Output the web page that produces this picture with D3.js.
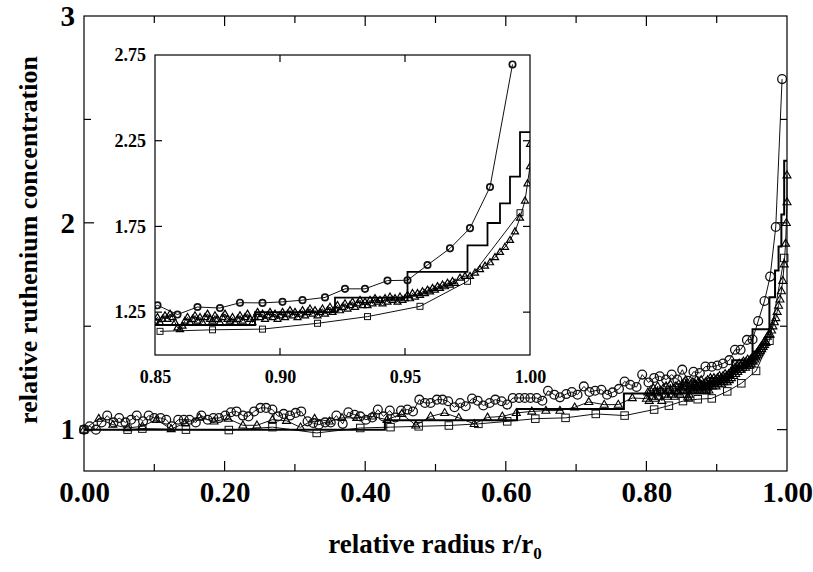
<!DOCTYPE html>
<html><head><meta charset="utf-8">
<script src="https://cdn.jsdelivr.net/npm/d3@7"></script>
<style>body{margin:0;background:#fff}svg{display:block}
svg text{font-family:"Liberation Serif","Times New Roman",serif !important;font-weight:bold;}</style>
</head><body><svg id="c" width="813" height="572"></svg>
<script>
// ---------- data ----------
const circleX = [0.000,0.008,0.017,0.025,0.033,0.042,0.050,0.059,0.067,0.075,0.084,0.092,0.100,0.109,0.117,0.125,0.134,0.142,0.150,0.159,
0.167,0.176,0.184,0.192,0.201,0.209,0.217,0.226,0.234,0.242,0.251,0.259,0.268,0.276,0.284,0.293,0.301,0.309,0.318,0.326,
0.334,0.343,0.351,0.359,0.368,0.376,0.385,0.393,0.401,0.410,0.418,0.426,0.435,0.443,0.451,0.460,0.468,0.477,0.485,0.493,
0.502,0.510,0.518,0.527,0.535,0.543,0.552,0.560,0.568,0.577,0.585,0.594,0.602,0.610,0.619,0.627,0.635,0.644,0.652,0.660,
0.669,0.677,0.686,0.694,0.702,0.711,0.719,0.727,0.736,0.744,0.752,0.761,0.769,0.777,0.786,0.794,0.803,0.811,0.819,0.828,
0.836,0.844,0.851,0.859,0.867,0.876,0.884,0.893,0.901,0.909,0.918,0.926,0.934,0.943,0.951,0.959,0.968,0.976,0.984,0.993];
const circleY = [1.000,1.016,1.000,1.035,1.068,1.035,1.056,1.035,1.048,1.068,1.040,1.068,1.056,1.056,1.048,1.016,1.048,1.048,1.048,1.035,
1.068,1.048,1.056,1.056,1.068,1.084,1.088,1.068,1.064,1.088,1.105,1.105,1.097,1.064,1.076,1.068,1.081,1.088,1.040,1.032,
1.024,1.035,1.035,1.068,1.028,1.084,1.072,1.064,1.048,1.059,1.097,1.064,1.092,1.059,1.092,1.097,1.088,1.145,1.129,1.129,
1.145,1.145,1.137,1.108,1.129,1.113,1.150,1.140,1.117,1.129,1.145,1.137,1.121,1.153,1.153,1.153,1.153,1.153,1.140,1.188,
1.169,1.156,1.172,1.182,1.169,1.209,1.182,1.188,1.193,1.169,1.180,1.197,1.233,1.217,1.206,1.266,1.228,1.250,1.258,1.242,
1.266,1.242,1.290,1.236,1.280,1.274,1.305,1.304,1.310,1.320,1.336,1.386,1.386,1.434,1.436,1.525,1.622,1.740,1.980,2.695];

const squareX = [0.000,0.062,0.083,0.145,0.206,0.268,0.331,0.393,0.436,0.476,0.519,0.561,0.602,0.642,0.685,0.728,0.769,0.811,0.832,0.852,0.873,0.893,0.915,0.935,0.956,0.975,0.996];
const squareY = [1.000,1.000,1.005,1.000,0.998,1.012,0.984,1.008,1.012,1.016,1.020,1.028,1.040,1.053,1.057,1.076,1.068,1.097,1.116,1.138,1.147,1.151,1.185,1.224,1.284,1.430,1.830];

const triangleX = [0.000,0.021,0.041,0.062,0.083,0.103,0.124,0.144,0.164,0.185,0.205,0.226,0.246,0.268,0.288,0.308,0.328,0.349,0.367,0.388,
0.410,0.431,0.452,0.472,0.493,0.513,0.533,0.555,0.574,0.595,0.615,0.637,0.657,0.677,0.698,0.718,0.740,0.760,0.780,
0.800,0.802,0.804,0.806,0.808,0.810,0.812,0.814,0.816,0.818,0.820,0.822,0.824,0.826,0.828,0.830,0.832,0.834,0.836,0.838,
0.840,0.842,0.844,0.846,0.848,
0.850,0.851,0.852,0.853,0.854,0.855,0.856,0.857,0.858,0.859,0.860,0.861,0.862,0.863,0.864,0.865,0.866,0.867,0.868,0.869,
0.870,0.871,0.872,0.873,0.874,0.875,0.876,0.877,0.878,0.879,0.880,0.881,0.882,0.883,0.884,0.885,0.886,0.887,0.888,0.889,
0.890,0.891,0.892,0.893,0.894,0.895,0.896,0.897,0.898,0.899,0.900,0.901,0.902,0.903,0.904,0.905,0.906,0.907,0.908,0.909,
0.910,0.911,0.912,0.913,0.914,0.915,0.916,0.917,0.918,0.919,0.920,0.921,0.922,0.923,0.924,0.925,0.926,0.927,0.928,0.929,
0.930,0.931,0.932,0.933,0.934,0.935,0.936,0.937,0.938,0.939,0.940,0.941,0.942,0.943,0.944,0.945,0.946,0.947,0.948,0.949,
0.950,0.951,0.952,0.953,0.954,0.955,0.956,0.957,0.958,0.959,0.960,0.961,0.962,0.963,0.964,0.965,0.966,0.967,0.968,0.969,
0.970,0.972,0.974,0.976,0.978,0.980,0.982,0.984,0.986,0.988,0.990,0.992,0.994,0.996,0.998,0.999,1.000,1.000];
const triangleY = [1.000,1.053,1.024,1.008,1.016,1.048,1.003,1.032,1.059,1.040,1.053,1.021,1.021,1.048,1.043,1.011,1.053,1.040,1.057,1.057,
1.064,1.048,1.076,1.021,1.064,1.081,1.057,1.028,1.059,1.064,1.081,1.088,1.092,1.092,1.108,1.134,1.121,1.121,1.153,
1.15,1.18,1.14,1.19,1.16,1.20,1.15,1.18,1.21,1.16,1.19,1.14,1.20,1.17,1.21,1.16,1.19,1.22,1.17,1.20,
1.16,1.21,1.18,1.22,1.17,
1.20,1.22,1.19,1.21,1.23,1.21,1.24,1.22,1.19,1.16,1.15,1.17,1.20,1.22,1.19,1.21,1.23,1.20,1.22,1.19,
1.22,1.24,1.21,1.20,1.23,1.21,1.19,1.22,1.24,1.21,1.20,1.22,1.19,1.21,1.23,1.20,1.22,1.24,1.21,1.19,
1.22,1.25,1.22,1.24,1.21,1.23,1.25,1.22,1.24,1.21,1.23,1.25,1.22,1.24,1.26,1.23,1.25,1.22,1.24,1.26,
1.23,1.25,1.27,1.24,1.26,1.23,1.25,1.27,1.24,1.26,1.28,1.25,1.27,1.29,1.26,1.28,1.30,1.27,1.29,1.31,
1.28,1.30,1.32,1.29,1.31,1.29,1.32,1.30,1.33,1.31,1.32,1.30,1.33,1.31,1.34,1.32,1.33,1.31,1.34,1.32,
1.33,1.35,1.33,1.36,1.34,1.36,1.35,1.37,1.36,1.38,1.37,1.39,1.38,1.40,1.39,1.41,1.40,1.42,1.41,1.43,
1.42,1.45,1.46,1.46,1.48,1.50,1.52,1.54,1.57,1.60,1.63,1.67,1.72,1.80,1.90,2.00,2.10,2.23];

const stepX = [0.000,0.428,0.616,0.768,0.890,0.922,0.951,0.975,0.983,0.988,0.992,0.996,1.000];
const stepY = [1.000,1.045,1.100,1.175,1.250,1.335,1.485,1.640,1.770,1.885,2.040,2.300,2.300];

const mainXLabels = [0,0.2,0.4,0.6,0.8,1.0];
const mainXMinor = [0.1,0.3,0.5,0.7,0.9];
const mainYLabels = [1,2,3];
const mainYMinor = [1.5,2.5];
const insetXLabels = [0.85,0.90,0.95,1.00];
const insetYLabels = [1.25,1.75,2.25,2.75];

// ---------- drawing ----------
const svg = d3.select("#c");
const FONT = '"Liberation Serif","Times New Roman",serif';
svg.append("rect").attr("width",813).attr("height",572).attr("fill","#fff");

const zip = (xs,ys)=>xs.map((x,i)=>[x,ys[i]]);
const circles = zip(circleX,circleY), squares = zip(squareX,squareY), tris = zip(triangleX,triangleY), steps = zip(stepX,stepY);

function panel(g, x, y, opt){
  const [x0,x1] = x.range(), [y1,y0] = y.range();
  const clipId = opt.id + "clip";
  const pad = opt.inset ? 0 : 6;
  g.append("clipPath").attr("id",clipId).append("rect")
    .attr("x",x0-pad).attr("y",y0-pad).attr("width",x1-x0+2*pad).attr("height",y1-y0+2*pad);
  const data = g.append("g").attr("clip-path",`url(#${clipId})`);
  const line = d3.line().x(d=>x(d[0])).y(d=>y(d[1]));
  const filt = a => a.filter(d=>d[0] >= x.domain()[0]-0.006);

  [circles, squares, tris].forEach(s=>{
    data.append("path").attr("d", line(filt(s))).attr("fill","none").attr("stroke","#111").attr("stroke-width",1);
  });
  data.append("path").attr("d", d3.line().curve(d3.curveStepAfter).x(d=>x(d[0])).y(d=>y(d[1]))(steps))
    .attr("fill","none").attr("stroke","#000").attr("stroke-width",opt.stepW);

  const r = opt.r, s = opt.sq, t = opt.tri;
  data.selectAll(".sq").data(filt(squares)).join("rect")
    .attr("x",d=>x(d[0])-s/2).attr("y",d=>y(d[1])-s/2).attr("width",s).attr("height",s)
    .attr("fill","none").attr("stroke","#111").attr("stroke-width",1);
  const triPath = d => { const cx=x(d[0]), cy=y(d[1]), h=t*0.87;
    return `M${cx},${cy-h*0.62}L${cx+t/2},${cy+h*0.38}L${cx-t/2},${cy+h*0.38}Z`; };
  data.selectAll(".tr").data(filt(tris)).join("path").attr("d",triPath)
    .attr("fill","none").attr("stroke","#000").attr("stroke-width",opt.tw);
  data.selectAll(".ci").data(filt(circles)).join("circle")
    .attr("cx",d=>x(d[0])).attr("cy",d=>y(d[1])).attr("r",r)
    .attr("fill","none").attr("stroke","#111").attr("stroke-width",opt.cw);

  g.append("rect").attr("x",x0).attr("y",y0).attr("width",x1-x0).attr("height",y1-y0)
    .attr("fill","none").attr("stroke","#000").attr("stroke-width",1.2);

  const tickG = g.append("g").attr("stroke","#000").attr("stroke-width",1.2);
  const addX = (vals,len)=>vals.forEach(v=>{
    tickG.append("line").attr("x1",x(v)).attr("x2",x(v)).attr("y1",y1).attr("y2",y1-len);
    tickG.append("line").attr("x1",x(v)).attr("x2",x(v)).attr("y1",y0).attr("y2",y0+len);
  });
  const addY = (vals,len)=>vals.forEach(v=>{
    tickG.append("line").attr("y1",y(v)).attr("y2",y(v)).attr("x1",x0).attr("x2",x0+len);
    tickG.append("line").attr("y1",y(v)).attr("y2",y(v)).attr("x1",x1).attr("x2",x1-len);
  });
  addX(opt.xMajor, opt.majLen); addX(opt.xMinor, opt.minLen);
  addY(opt.yMajor, opt.majLen); addY(opt.yMinor, opt.minLen);

  const ax = g.append("g").attr("transform",`translate(0,${y1})`)
    .call(d3.axisBottom(x).tickValues(opt.xLabels).tickSize(0).tickPadding(opt.xPad).tickFormat(d3.format(".2f")));
  const ay = g.append("g").attr("transform",`translate(${x0},0)`)
    .call(d3.axisLeft(y).tickValues(opt.yLabels).tickSize(0).tickPadding(opt.yPad).tickFormat(opt.yFmt));
  [ax,ay].forEach(a=>{
    a.attr("font-family",FONT);
    a.select(".domain").remove();
    a.selectAll("text").attr("font-family",FONT).attr("font-weight","bold").attr("font-size",opt.fs).attr("fill","#000");
  });
}

// main
const xMain = d3.scaleLinear().domain([0,1]).range([84,787]);
const yMain = d3.scaleLinear().domain([0.8,3]).range([471,16]);
panel(svg.append("g"), xMain, yMain, {id:"m", r:4.4, cw:1.3, sq:7.5, tri:8, tw:1.1, stepW:2,
  xMajor:[0.2,0.4,0.6,0.8], xMinor:mainXMinor, yMajor:[1,2], yMinor:mainYMinor, majLen:10, minLen:7,
  xLabels:mainXLabels, yLabels:mainYLabels, xPad:10, yPad:9, fs:29, yFmt:d3.format("d")});

// inset
const xIn = d3.scaleLinear().domain([0.85,1.0]).range([155,530]);
const yIn = d3.scaleLinear().domain([1.0,2.75]).range([355,55]);
const ig = svg.append("g");
ig.append("rect").attr("x",155).attr("y",55).attr("width",375).attr("height",300).attr("fill","#fff");
panel(ig, xIn, yIn, {id:"i", inset:true, r:3.2, cw:1.7, sq:6, tri:7, tw:1.2, stepW:1.8,
  xMajor:[0.90,0.95], xMinor:[], yMajor:[1.25,1.75,2.25], yMinor:[], majLen:7, minLen:5,
  xLabels:insetXLabels, yLabels:insetYLabels, xPad:15, yPad:9, fs:18, yFmt:d3.format(".2f")});

// axis titles
svg.append("text").attr("transform","translate(37,240) rotate(-90)").attr("text-anchor","middle")
  .attr("font-family",FONT).attr("font-weight","bold").attr("font-size",26).attr("fill","#000")
  .text("relative ruthenium concentration");
const xt = svg.append("text").attr("x",435).attr("y",553).attr("text-anchor","middle")
  .attr("font-family",FONT).attr("font-weight","bold").attr("font-size",27).attr("fill","#000");
xt.append("tspan").text("relative radius r/r");
xt.append("tspan").attr("font-size",17).attr("dy",6).text("0");
</script></body></html>
